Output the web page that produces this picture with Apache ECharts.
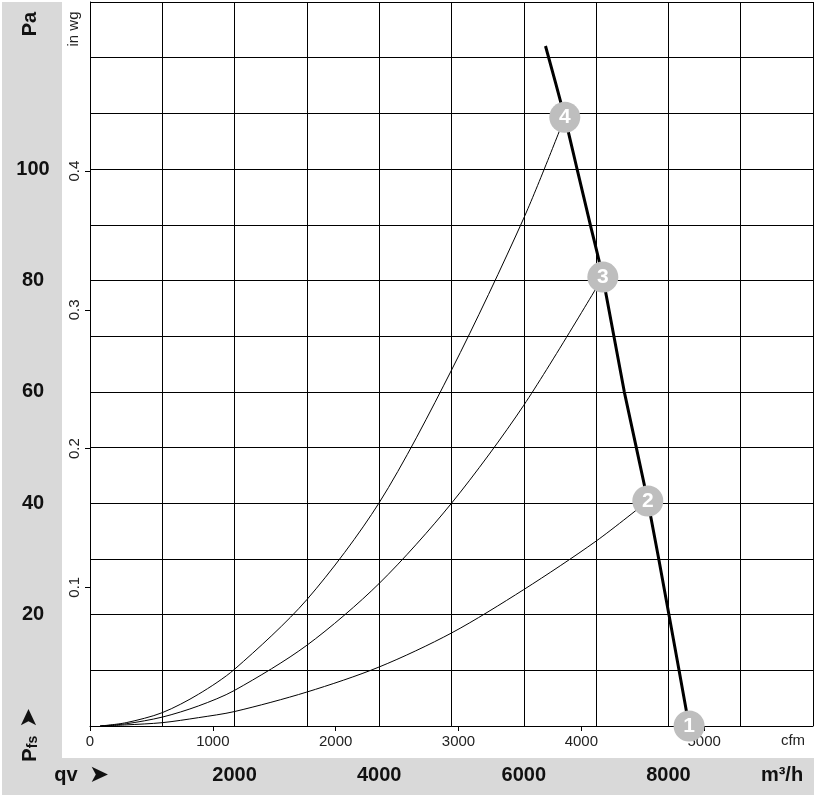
<!DOCTYPE html>
<html>
<head>
<meta charset="utf-8">
<script src="https://cdn.jsdelivr.net/npm/echarts@6/dist/echarts.min.js"></script>
<style>html,body{margin:0;padding:0;background:#fff}#c{width:818px;height:797px}</style>
</head>
<body>
<div id="c"></div>
<script>
// ---- data ----
const flowMax = 10000;          // m³/h
const paMax = 130;              // Pa
const m3hTicks = [2000, 4000, 6000, 8000];
const paTicks = [20, 40, 60, 80, 100];
const cfmTicks = [0, 1000, 2000, 3000, 4000, 5000];
const inwgTicks = [0.1, 0.2, 0.3, 0.4];

// system curves (flow m³/h, pressure Pa)
const curve2Flow = [140, 500, 1000, 1500, 2000, 3000, 4000, 5000, 6000, 7000, 7715];
const curve2Pa   = [0, 0.2, 0.6, 1.5, 2.6, 6.1, 10.6, 16.7, 24.5, 33.2, 40.4];
const curve3Flow = [140, 500, 1000, 1500, 2000, 3000, 4000, 5000, 6000, 7093];
const curve3Pa   = [0, 0.4, 1.6, 3.6, 6.4, 14.5, 25.6, 40.0, 57.6, 80.6];
const curve4Flow = [140, 500, 1000, 1500, 2000, 3000, 4000, 5000, 6000, 6567];
const curve4Pa   = [0, 0.6, 2.4, 5.7, 10.2, 22.7, 40.1, 63.9, 91.2, 109.3];

// fan characteristic (thick line)
const fanFlow = [6300, 6567, 6737, 6922, 7093, 7390, 7715, 8009, 8286];
const fanPa   = [122.1, 109.3, 100.0, 89.9, 80.6, 60.0, 40.4, 19.9, 0];

// operating points
const opNames = ['1', '2', '3', '4'];
const opFlow  = [8286, 7715, 7093, 6567];
const opPa    = [0, 40.4, 80.6, 109.3];

const M3H_PER_CFM = 1.699011;
const PA_PER_INWG = 249.0889;

const zip = (a, b) => a.map((v, i) => [v, b[i]]);
const FONT = 'Liberation Sans, Arial, sans-serif';
const plain = v => String(Math.round(v));

const chart = echarts.init(document.getElementById('c'), null, {renderer: 'canvas'});
const grid = {left: 90, top: 2, width: 723, height: 724};
const lineStyleThin = {color: '#000', width: 1};

const option = {
  animation: false,
  backgroundColor: '#fff',
  grid: grid,
  graphic: [
    {type: 'rect', left: 2, top: 2, z: -10, shape: {width: 60, height: 756}, style: {fill: '#d9d9d9'}},
    {type: 'rect', left: 2, top: 758, z: -10, shape: {width: 812, height: 37}, style: {fill: '#d9d9d9'}},
    {type: 'text', x: 30, y: 24, rotation: Math.PI / 2, style: {text: 'Pa', font: 'bold 20px ' + FONT, fill: '#111', textAlign: 'center', textVerticalAlign: 'middle'}},
    {type: 'text', x: 74, y: 29, rotation: Math.PI / 2, style: {text: 'in wg', font: '15px ' + FONT, fill: '#222', textAlign: 'center', textVerticalAlign: 'middle'}},
    {type: 'text', x: 30, y: 755, rotation: Math.PI / 2, style: {text: 'P', font: 'bold 20px ' + FONT, fill: '#111', textAlign: 'center', textVerticalAlign: 'middle'}},
    {type: 'text', x: 33, y: 742, rotation: Math.PI / 2, style: {text: 'fs', font: 'bold 14px ' + FONT, fill: '#111', textAlign: 'center', textVerticalAlign: 'middle'}},
    {type: 'text', x: 30, y: 718, rotation: Math.PI / 2, style: {text: '➤', font: '24px DejaVu Sans', fill: '#111', textAlign: 'center', textVerticalAlign: 'middle'}},
    {type: 'text', x: 66, y: 775, style: {text: 'qv', font: 'bold 20px ' + FONT, fill: '#111', textAlign: 'center', textVerticalAlign: 'middle'}},
    {type: 'text', x: 99, y: 776, style: {text: '➤', font: '24px DejaVu Sans', fill: '#111', textAlign: 'center', textVerticalAlign: 'middle'}},
    {type: 'text', x: 793, y: 741, style: {text: 'cfm', font: '15px ' + FONT, fill: '#222', textAlign: 'center', textVerticalAlign: 'middle'}},
    {type: 'text', x: 782, y: 775, style: {text: 'm³/h', font: 'bold 20px ' + FONT, fill: '#111', textAlign: 'center', textVerticalAlign: 'middle'}}
  ],
  xAxis: [
    {
      type: 'value', min: 0, max: flowMax, interval: 1000, position: 'bottom',
      axisLine: {show: true, lineStyle: lineStyleThin}, axisTick: {show: false}, axisLabel: {show: false},
      splitLine: {show: true, lineStyle: lineStyleThin}
    },
    {
      type: 'value', min: 0, max: flowMax, position: 'bottom',
      axisLine: {show: false}, axisTick: {show: false}, splitLine: {show: false},
      axisLabel: {show: true, customValues: m3hTicks, formatter: plain, margin: 39, color: '#111', fontSize: 20, fontWeight: 'bold', fontFamily: FONT}
    },
    {
      type: 'value', min: 0, max: flowMax / M3H_PER_CFM, position: 'bottom',
      axisLine: {show: false}, splitLine: {show: false},
      axisTick: {show: true, customValues: cfmTicks, length: 5, lineStyle: lineStyleThin},
      axisLabel: {show: true, customValues: cfmTicks, formatter: plain, margin: 8, color: '#222', fontSize: 15, fontFamily: FONT}
    }
  ],
  yAxis: [
    {
      type: 'value', min: 0, max: paMax, interval: 10, position: 'left',
      axisLine: {show: true, lineStyle: lineStyleThin}, axisTick: {show: false},
      splitLine: {show: true, lineStyle: lineStyleThin},
      axisLabel: {show: true, customValues: paTicks, formatter: plain, margin: 57, align: 'center', color: '#111', fontSize: 20, fontWeight: 'bold', fontFamily: FONT}
    },
    {
      type: 'value', min: 0, max: paMax / PA_PER_INWG, position: 'left',
      axisLine: {show: false}, splitLine: {show: false},
      axisTick: {show: true, customValues: inwgTicks, length: 5, lineStyle: lineStyleThin},
      axisLabel: {show: true, customValues: inwgTicks, rotate: 90, margin: 8, color: '#222', fontSize: 15, fontFamily: FONT,
        formatter: v => v.toFixed(1)}
    }
  ],
  series: [
    {type: 'line', data: zip(curve2Flow, curve2Pa), smooth: 0.3, showSymbol: false, lineStyle: {color: '#000', width: 1}, z: 3},
    {type: 'line', data: zip(curve3Flow, curve3Pa), smooth: 0.3, showSymbol: false, lineStyle: {color: '#000', width: 1}, z: 3},
    {type: 'line', data: zip(curve4Flow, curve4Pa), smooth: 0.3, showSymbol: false, lineStyle: {color: '#000', width: 1}, z: 3},
    {type: 'line', data: zip(fanFlow, fanPa), smooth: 0.2, showSymbol: false, lineStyle: {color: '#000', width: 3}, z: 4},
    {
      type: 'scatter', clip: false, z: 6, symbol: 'circle', symbolSize: 31,
      itemStyle: {color: '#bebebe', opacity: 1},
      label: {show: true, position: 'inside', formatter: p => p.data[2], color: '#fff', fontSize: 21, fontWeight: 'bold', fontFamily: FONT},
      data: opFlow.map((f, i) => [f, opPa[i], opNames[i]])
    }
  ]
};
chart.setOption(option);
</script>
</body>
</html>
